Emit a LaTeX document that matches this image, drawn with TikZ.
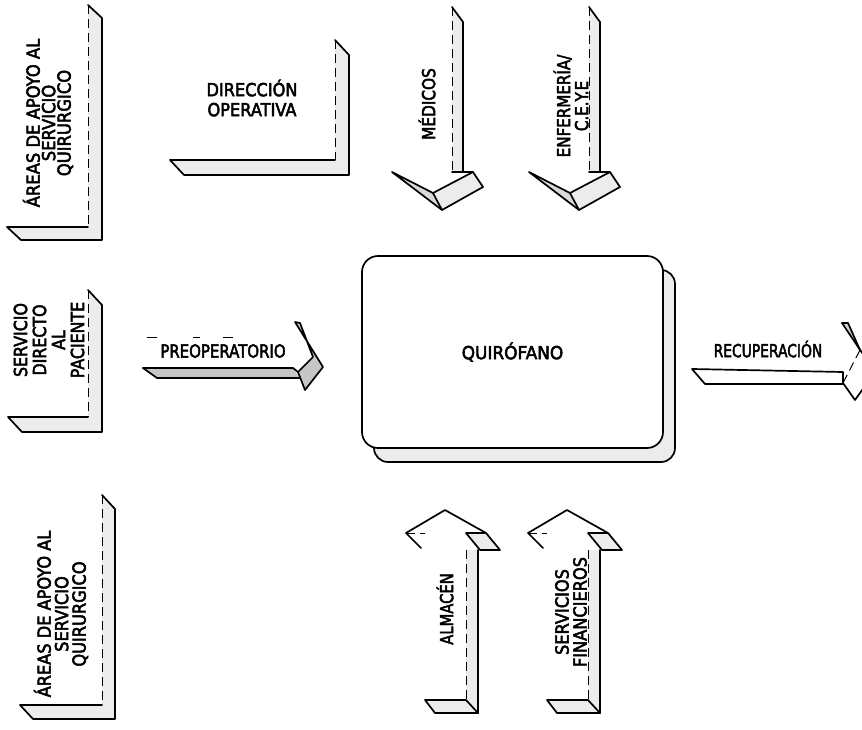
\documentclass[tikz,border=0pt]{standalone}
\usepackage{fontspec}
\setmainfont{DejaVu Sans}[FakeBold=3]
\usepackage{graphicx}
\newcommand\sq[2]{\scalebox{#1}[1]{\vbox{\halign{\hfil##\hfil\cr#2\cr}}}}
\newcommand\LBox[6]{%
  \fill[face] (#2,#3) -- ({#2+#5},{#3+#6}) -- ({#2+#5},{#4+#6}) -- ({#1+#5},{#4+#6}) -- (#1,#4) -- (#2,#4) -- cycle;
  \draw[edge] (#2,#3) -- ({#2+#5},{#3+#6}) -- ({#2+#5},{#4+#6}) -- ({#1+#5},{#4+#6}) -- (#1,#4) -- (#2,#4);
  \draw[inner] (#2,#3) -- (#2,#4);
}
\newcommand\DownArr{%
  \fill[face] (452,7) -- (463,22) -- (463,172) -- (452,172) -- cycle;
  \draw[edge] (452,7) -- (463,22) -- (463,172);
  \draw[inner] (452,7) -- (452,172);
  \draw[edge] (452,172) -- (473,172);
  \fill[face] (433,193) -- (473,172) -- (483,187) -- (442,210) -- cycle;
  \fill[gray!30] (392,172) -- (433,193) -- (442,210) -- cycle;
  \draw[edge] (392,172) -- (433,193) -- (473,172) -- (483,187) -- (442,210) -- cycle;
  \draw[edge] (433,193) -- (442,210);
}
\newcommand\UpArr{%
  \fill[face] (588,550) -- (600,550) -- (600,713) -- (588,700) -- cycle;
  \fill[face] (547,700) -- (588,700) -- (600,713) -- (557,713) -- cycle;
  \fill[face] (588,533) -- (608,533) -- (622,550) -- (602,550) -- cycle;
  \draw[edge] (547,700) -- (588,700) -- (600,713) -- (557,713) -- cycle;
  \draw[edge] (600,550) -- (600,713);
  \draw[inner] (588,550) -- (588,700);
  \draw[edge] (543,548) -- (528,533) -- (567,510) -- (608,533) -- (622,550) -- (602,550) -- (588,533) -- (608,533);
  \draw[inner] (528,533) -- (547,533);
}
\begin{document}
\begin{tikzpicture}[x=1pt,y=-1pt,
  edge/.style={draw=black,line width=1.7pt,line join=round,line cap=round},
  inner/.style={draw=black,line width=1pt,dash pattern=on 9pt off 5pt},
  face/.style={fill=gray!15},
  dark/.style={fill=gray!45},
  lbl/.style={inner sep=0pt,font=\fontsize{18}{#1}\selectfont},
  lbl/.default=18]
\useasboundingbox (0,0) rectangle (862,730);
\clip (0,0) rectangle (862,730);
\fill[white] (0,0) rectangle (862,730);

% L-shaped 3D frames
\LBox{7}{88}{5}{227}{14}{13}
\LBox{170}{335}{40}{160}{14}{15}
\LBox{8}{88}{290}{417}{14}{15}
\LBox{20}{102}{495}{705}{13}{14}

% down arrows
\DownArr
\begin{scope}[shift={(137,0)}]\DownArr\end{scope}

% up arrows
\UpArr
\begin{scope}[shift={(-122,0)}]\UpArr\end{scope}

% PREOPERATORIO arrow
\fill[dark] (143,368) -- (293,368) -- (300,378) -- (157,378) -- cycle;
\draw[edge] (143,368) -- (293,368) -- (298,372);
\draw[edge] (143,368) -- (157,378) -- (300,378);
\fill[dark] (295,322) -- (323,367) -- (313,357) -- (300,323) -- cycle;
\fill[dark] (298,372) -- (313,357) -- (323,367) -- (305,390) -- cycle;
\draw[edge] (295,322) -- (323,367) -- (305,390) -- (298,372) -- (313,357) -- (300,323) -- cycle;
\draw[line width=1pt] (147,337) -- (157,337) (193,337) -- (200,337) (223,337) -- (233,337);

% RECUPERACION arrow
\draw[edge] (692,369) -- (843,372) -- (843,384) -- (705,384) -- cycle;
\fill[gray!35] (842,323) -- (875,372) -- (860,350) -- (848,323) -- cycle;
\draw[edge] (842,323) -- (875,372);
\draw[edge] (842,323) -- (848,323) -- (860,350);
\draw[inner] (860,350) -- (843,383);
\draw[edge] (843,383) -- (855,400) -- (875,372);

% QUIROFANO box with shadow
\filldraw[face,edge,rounded corners=14pt] (374,270) rectangle (675,462);
\node[lbl,draw,line width=1.7pt,fill=white,rounded corners=16pt,minimum width=301pt,minimum height=192pt] (quir) at (512.5,352) {\sq{0.94}{QUIRÓFANO}};

% labels
\node[lbl=15.5,rotate=90] (areas1) at (48,123) {\sq{0.91}{ÁREAS DE APOYO AL\cr SERVICIO\cr QUIRURGICO}};
\node[lbl=20] (direc) at (252,98) {\sq{0.9}{DIRECCIÓN\cr OPERATIVA}};
\node[lbl,rotate=90] (medicos) at (427,104) {\sq{0.85}{MÉDICOS}};
\node[lbl=18,rotate=90] (enf) at (571,106) {\sq{0.84}{ENFERMERÍA/\cr C.E.Y.E}};
\node[lbl=19,rotate=90] (servdir) at (49,340) {\sq{0.88}{SERVICIO\cr DIRECTO\cr AL\cr PACIENTE}};
\node[lbl] (preop) at (223,351) {\sq{0.83}{PREOPERATORIO}};
\node[lbl] (recup) at (768,349) {\sq{0.77}{RECUPERACIÓN}};
\node[lbl=17.5,rotate=90] (areas2) at (61,614) {\sq{0.9}{ÁREAS DE APOYO AL\cr SERVICIO\cr QUIRURGICO}};
\node[lbl,rotate=90] (almacen) at (445,609) {\sq{0.82}{ALMACÉN}};
\node[lbl=18,rotate=90] (servfin) at (571,612) {\sq{0.9}{SERVICIOS\cr FINANCIEROS}};
\end{tikzpicture}
\end{document}
